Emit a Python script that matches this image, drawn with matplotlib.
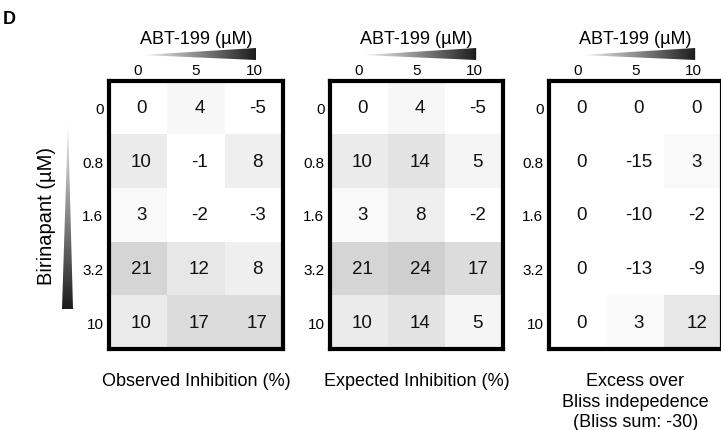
import numpy as np
import matplotlib
matplotlib.use("Agg")
import matplotlib.pyplot as plt
from matplotlib.colors import LinearSegmentedColormap
from matplotlib.patches import Polygon

plt.rcParams['font.family'] = ['Liberation Sans', 'DejaVu Sans']

abt_labels = ["0", "5", "10"]
bir_labels = ["0", "0.8", "1.6", "3.2", "10"]
observed = [[0, 4, -5], [10, -1, 8], [3, -2, -3], [21, 12, 8], [10, 17, 17]]
expected = [[0, 4, -5], [10, 14, 5], [3, 8, -2], [21, 24, 17], [10, 14, 5]]
excess = [[0, 0, 0], [0, -15, 3], [0, -10, -2], [0, -13, -9], [0, 3, 12]]
panel_titles = ["Observed Inhibition (%)", "Expected Inhibition (%)",
                "Excess over\nBliss indepedence\n(Bliss sum: -30)"]
col_title = "ABT-199 (µM)"
row_title = "Birinapant (µM)"

W, H = 721, 431
fig = plt.figure(figsize=(W / 100, H / 100), dpi=100)

cell_cmap = LinearSegmentedColormap.from_list("cellgray", ["#ffffff", "#9b9b9b"])
grad_cmap = LinearSegmentedColormap.from_list("grad", ["#ffffff", "#1c1c1c"])

panels = [(109, 283), (330, 503), (549, 722)]
top, bottom = 82, 350
datasets = [observed, expected, excess]

for (x0, x1), data, ptitle in zip(panels, datasets, panel_titles):
    ax = fig.add_axes([x0 / W, 1 - bottom / H, (x1 - x0) / W, (bottom - top) / H])
    arr = np.array(data, dtype=float)
    ax.imshow(arr, cmap=cell_cmap, vmin=0, vmax=50, aspect='auto',
              interpolation='nearest')
    for i in range(arr.shape[0]):
        for j in range(arr.shape[1]):
            ax.text(j + 0.06, i, f"{int(arr[i, j])}", ha='center', va='center',
                    fontsize=13.5, color='#111111')
    ax.set_xticks(range(3))
    ax.set_xticklabels(abt_labels, fontsize=11)
    ax.set_yticks(range(5))
    ax.set_yticklabels(bir_labels, fontsize=11)
    ax.xaxis.tick_top()
    ax.tick_params(length=0, pad=3)
    ax.tick_params(axis='y', pad=4)
    for s in ax.spines.values():
        s.set_linewidth(3)
        s.set_color('black')
    cx = (x0 + x1) / 2
    fig.text(cx / W, 1 - 39 / H, col_title, ha='center', va='center', fontsize=13)
    fig.text(cx / W, 1 - 373 / H, ptitle, ha='center', va='top', fontsize=13,
             linespacing=1.27)

# overlay for gradient wedges and labels
ov = fig.add_axes([0, 0, 1, 1], zorder=5)
ov.set_xlim(0, W)
ov.set_ylim(H, 0)
ov.axis('off')
ov.patch.set_alpha(0)

grad_h = np.linspace(0.05, 1, 256)[None, :]
for (x0, x1) in panels:
    colw = (x1 - x0) / 3
    a = x0 + colw * 0.5 + 4
    b = x0 + colw * 2.5 + 2
    poly = Polygon([[a, 56], [b, 49], [b, 61]], closed=True,
                   facecolor='none', edgecolor='none')
    ov.add_patch(poly)
    im = ov.imshow(grad_h, cmap=grad_cmap, vmin=0, vmax=1,
                   extent=[a, b, 61, 49], aspect='auto')
    im.set_clip_path(poly)

grad_v = np.linspace(0.05, 1, 256)[:, None]
vpoly = Polygon([[68, 122], [73, 310], [62, 310]], closed=True,
                facecolor='none', edgecolor='none')
ov.add_patch(vpoly)
imv = ov.imshow(grad_v, cmap=grad_cmap, vmin=0, vmax=1,
                extent=[62, 73, 310, 122], aspect='auto')
imv.set_clip_path(vpoly)
ov.set_xlim(0, W)
ov.set_ylim(H, 0)

ov.text(47, 216, row_title, rotation=90, ha='center', va='center', fontsize=14.5)
ov.text(9, 20, "D", ha='center', va='center', fontsize=13, fontweight='bold')

fig.savefig("out.png", dpi=100)
